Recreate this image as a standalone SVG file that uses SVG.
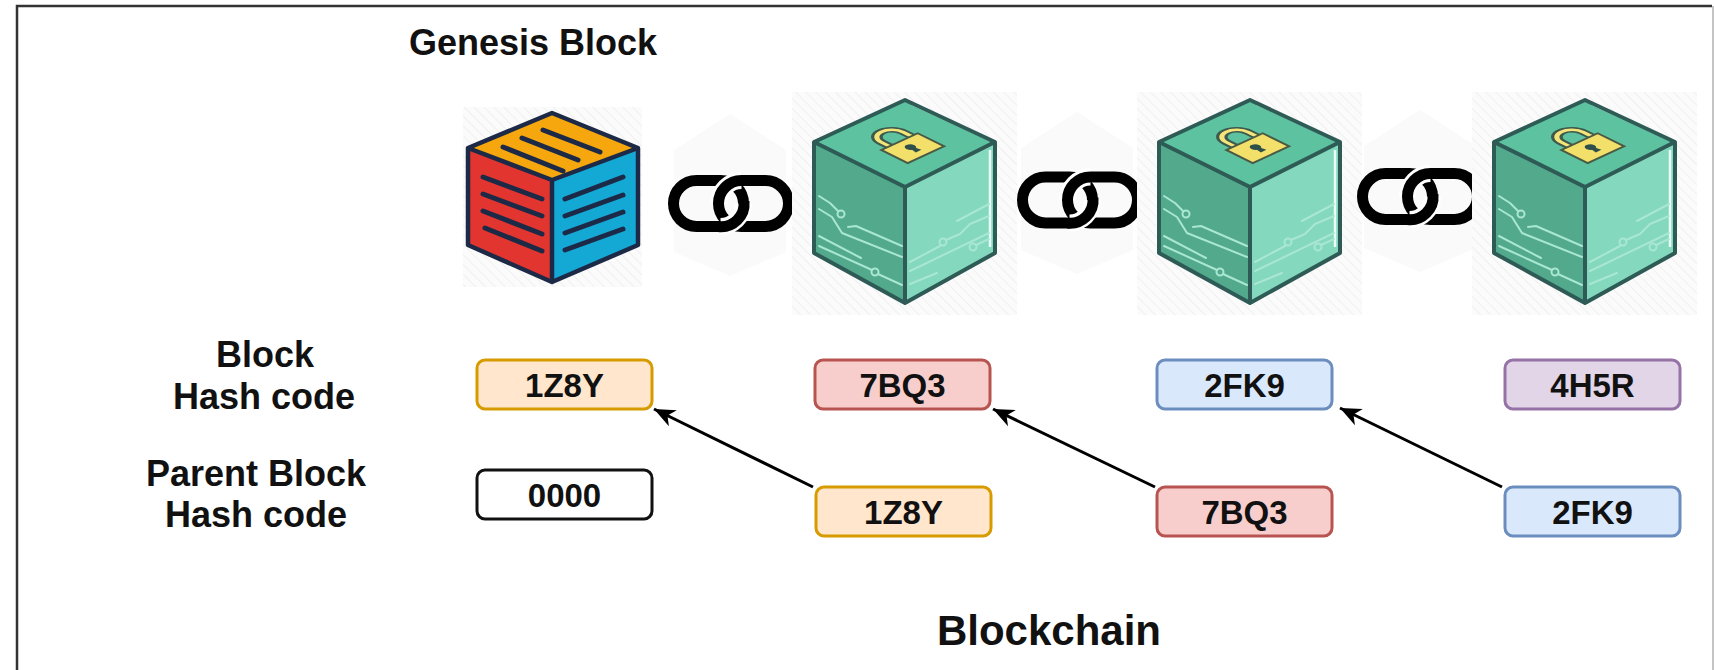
<svg xmlns="http://www.w3.org/2000/svg" xmlns:xlink="http://www.w3.org/1999/xlink" width="1714" height="670" viewBox="0 0 1714 670">
  <style>
    .lbl { font-family: "Liberation Sans", Arial, Helvetica, sans-serif; font-weight: bold; fill: #111; text-anchor: middle; }
    .hash { font-family: "Liberation Sans", Arial, Helvetica, sans-serif; font-weight: bold; font-size: 33px; fill: #111; text-anchor: middle; }
    .box { stroke-width: 3; }
    .orange { fill: #ffe6cc; stroke: #d79b00; }
    .red { fill: #f8cecc; stroke: #b85450; }
    .blue { fill: #dae8fc; stroke: #6c8ebf; }
    .purple { fill: #e1d5e7; stroke: #9673a6; }
    .plain { fill: #ffffff; stroke: #111111; }
    .conn { fill: none; stroke: #000; stroke-width: 3; }
    .circ { fill: none; stroke: #a9e7d2; stroke-width: 2; stroke-linecap: round; stroke-linejoin: round; }
    .stripe { fill: none; stroke: #1d2a47; stroke-width: 5; stroke-linecap: round; }
    .chain { fill: none; stroke: #000; stroke-width: 11; }
    .halo { fill: none; stroke: #fff; stroke-width: 17; }
  </style>
  <defs>
    <pattern id="hatch" width="7" height="7" patternUnits="userSpaceOnUse" patternTransform="rotate(-45)">
      <rect width="7" height="7" fill="#fbfbfb"/>
      <line x1="0" y1="0" x2="0" y2="7" stroke="#f0f0f0" stroke-width="2"/>
    </pattern>
    <marker id="arr" markerUnits="userSpaceOnUse" markerWidth="24" markerHeight="20" refX="21" refY="10" orient="auto">
      <path d="M0,1 L21,10 L0,19 L6,10 Z" fill="#000"/>
    </marker>
    <g id="linkShape">
      <rect x="0" y="0" width="70" height="46" rx="23" class="chain"/>
      <path class="halo" d="M68,0 A23,23 0 0 0 45,23"/>
      <rect x="45" y="0" width="70" height="46" rx="23" class="chain"/>
      <path class="halo" d="M70,23 A23,23 0 0 1 47,46"/>
      <path class="chain" d="M70.5,21 A23,23 0 0 1 45,46"/>
    </g>
    <g id="greenCube">
      <rect x="792" y="92" width="225" height="223" fill="url(#hatch)"/>
      <polygon points="905,100 995,142 905,187 814,142" fill="#5dc29f"/>
      <polygon points="814,142 905,187 905,303 814,253" fill="#52a98c"/>
      <polygon points="905,187 995,142 995,253 905,303" fill="#84d8bd"/>
      <path d="M912,104 L988,139 M990,150 V247" fill="none" stroke="#eafff7" stroke-width="2.5"/>
      <path class="circ" d="M819,196 L830,203 L838,211"/>
      <circle class="circ" cx="841" cy="214" r="3.5"/>
      <path class="circ" d="M819,209 L832,217 L842,233 L902,257"/>
      <path class="circ" d="M848,227 L856,226 L902,246"/>
      <path class="circ" d="M819,236 L861,258"/>
      <path class="circ" d="M819,246 L872,270"/>
      <circle class="circ" cx="875" cy="272" r="3.5"/>
      <path class="circ" d="M878,274 L902,285"/>
      <path class="circ" d="M957,221 L989,204"/>
      <path class="circ" d="M910,262 L940,246"/>
      <circle class="circ" cx="943" cy="242" r="3.5"/>
      <path class="circ" d="M946,240 L960,234 L970,224 L989,216"/>
      <circle class="circ" cx="973" cy="247" r="3.5"/>
      <path class="circ" d="M976,245 L989,239"/>
      <path class="circ" d="M910,271 L989,233"/>
      <path class="circ" d="M910,284 L937,273"/>
      <g transform="matrix(0.91,0.45,0.91,-0.42,814,142)">
        <path d="M46,38 L36,38 A12,12 0 0 0 36,62 L46,62" fill="none" stroke="#3d5a4c" stroke-width="9"/>
        <path d="M46,38 L36,38 A12,12 0 0 0 36,62 L46,62" fill="none" stroke="#f4e47a" stroke-width="4"/>
        <polygon points="45,29 74,29 74,69 45,69" fill="#f3e06a" stroke="#4a5a44" stroke-width="2.5"/>
        <circle cx="57" cy="49" r="4.5" fill="#2f4f4a"/>
        <polygon points="57,47.5 66,46 66,52 57,50.5" fill="#2f4f4a"/>
      </g>
      <polygon points="905,100 995,142 995,253 905,303 814,253 814,142" fill="none" stroke="#2e5b55" stroke-width="4" stroke-linejoin="round"/>
      <path d="M814,142 L905,187 L995,142 M905,187 V303" fill="none" stroke="#2e5b55" stroke-width="4" stroke-linejoin="round"/>
    </g>
  </defs>

  <rect width="1714" height="670" fill="#ffffff"/>
  <g id="frame">
    <path d="M17,670 V6 H1712" fill="none" stroke="#333" stroke-width="2.5"/>
    <path d="M1713,6 V670" fill="none" stroke="#c4c4c4" stroke-width="2"/>
  </g>

  <g id="title-genesis">
    <text class="lbl" x="533" y="55" font-size="36">Genesis Block</text>
  </g>

  <g id="genesis-block">
    <rect x="463" y="107" width="179" height="180" fill="url(#hatch)"/>
    <polygon points="552,113 638,148 552,180 468,148" fill="#f6a70d"/>
    <polygon points="468,148 552,180 552,282 468,245" fill="#e2352f"/>
    <polygon points="552,180 638,148 638,245 552,282" fill="#14a8d4"/>
    <path class="stripe" d="M503,147 L563,171 M522,138 L578,160 M543,130 L600,152"/>
    <path class="stripe" d="M483,177 L542,199 M483,194 L542,216 M483,211 L542,234 M485,228 L542,251"/>
    <path class="stripe" d="M565,199 L623,177 M565,216 L623,195 M565,233 L623,212 M565,250 L623,229"/>
    <polygon points="552,113 638,148 638,245 552,282 468,245 468,148" fill="none" stroke="#1d2a47" stroke-width="4.5" stroke-linejoin="round"/>
    <path d="M468,148 L552,180 L638,148 M552,180 V282" fill="none" stroke="#1d2a47" stroke-width="4.5" stroke-linejoin="round"/>
  </g>

  <g id="chain-1">
    <polygon points="730,114 786,150 786,252 730,276 674,252 674,150" fill="#fafafa"/>
    <use xlink:href="#linkShape" transform="translate(673.5,180.5)"/>
  </g>
  <g id="block-2">
    <use xlink:href="#greenCube"/>
  </g>
  <g id="chain-2">
    <polygon points="1077,112 1133,148 1133,250 1077,274 1021,250 1021,148" fill="#fafafa"/>
    <use xlink:href="#linkShape" transform="translate(1022.5,177)"/>
  </g>
  <g id="block-3">
    <use xlink:href="#greenCube" transform="translate(345,0)"/>
  </g>
  <g id="chain-3">
    <polygon points="1420,110 1476,146 1476,248 1420,272 1364,248 1364,146" fill="#fafafa"/>
    <use xlink:href="#linkShape" transform="translate(1362.5,173.5)"/>
  </g>
  <g id="block-4">
    <use xlink:href="#greenCube" transform="translate(680,0)"/>
  </g>

  <g id="label-block-hash">
    <text class="lbl" x="265" y="367" font-size="36">Block</text>
    <text class="lbl" x="264" y="409" font-size="36">Hash code</text>
  </g>
  <g id="label-parent-hash">
    <text class="lbl" x="256" y="486" font-size="36">Parent Block</text>
    <text class="lbl" x="256" y="527" font-size="36">Hash code</text>
  </g>

  <g id="hash-1z8y">
    <rect class="box orange" x="477" y="360" width="175" height="49" rx="8"/>
    <text class="hash" x="564.5" y="396.5">1Z8Y</text>
  </g>
  <g id="hash-7bq3">
    <rect class="box red" x="815" y="360" width="175" height="49" rx="8"/>
    <text class="hash" x="902.5" y="396.5">7BQ3</text>
  </g>
  <g id="hash-2fk9">
    <rect class="box blue" x="1157" y="360" width="175" height="49" rx="8"/>
    <text class="hash" x="1244.5" y="396.5">2FK9</text>
  </g>
  <g id="hash-4h5r">
    <rect class="box purple" x="1505" y="360" width="175" height="49" rx="8"/>
    <text class="hash" x="1592.5" y="396.5">4H5R</text>
  </g>

  <g id="parent-0000">
    <rect class="box plain" x="477" y="470" width="175" height="49" rx="8"/>
    <text class="hash" x="564.5" y="506.5">0000</text>
  </g>
  <g id="parent-1z8y">
    <rect class="box orange" x="816" y="487" width="175" height="49" rx="8"/>
    <text class="hash" x="903.5" y="523.5">1Z8Y</text>
  </g>
  <g id="parent-7bq3">
    <rect class="box red" x="1157" y="487" width="175" height="49" rx="8"/>
    <text class="hash" x="1244.5" y="523.5">7BQ3</text>
  </g>
  <g id="parent-2fk9">
    <rect class="box blue" x="1505" y="487" width="175" height="49" rx="8"/>
    <text class="hash" x="1592.5" y="523.5">2FK9</text>
  </g>

  <g id="connectors">
    <path class="conn" d="M813,487 L654,409" marker-end="url(#arr)"/>
    <path class="conn" d="M1155,487 L993,409" marker-end="url(#arr)"/>
    <path class="conn" d="M1502,487 L1340,408" marker-end="url(#arr)"/>
  </g>

  <g id="title-blockchain">
    <text class="lbl" x="1049" y="645" font-size="42">Blockchain</text>
  </g>
</svg>
